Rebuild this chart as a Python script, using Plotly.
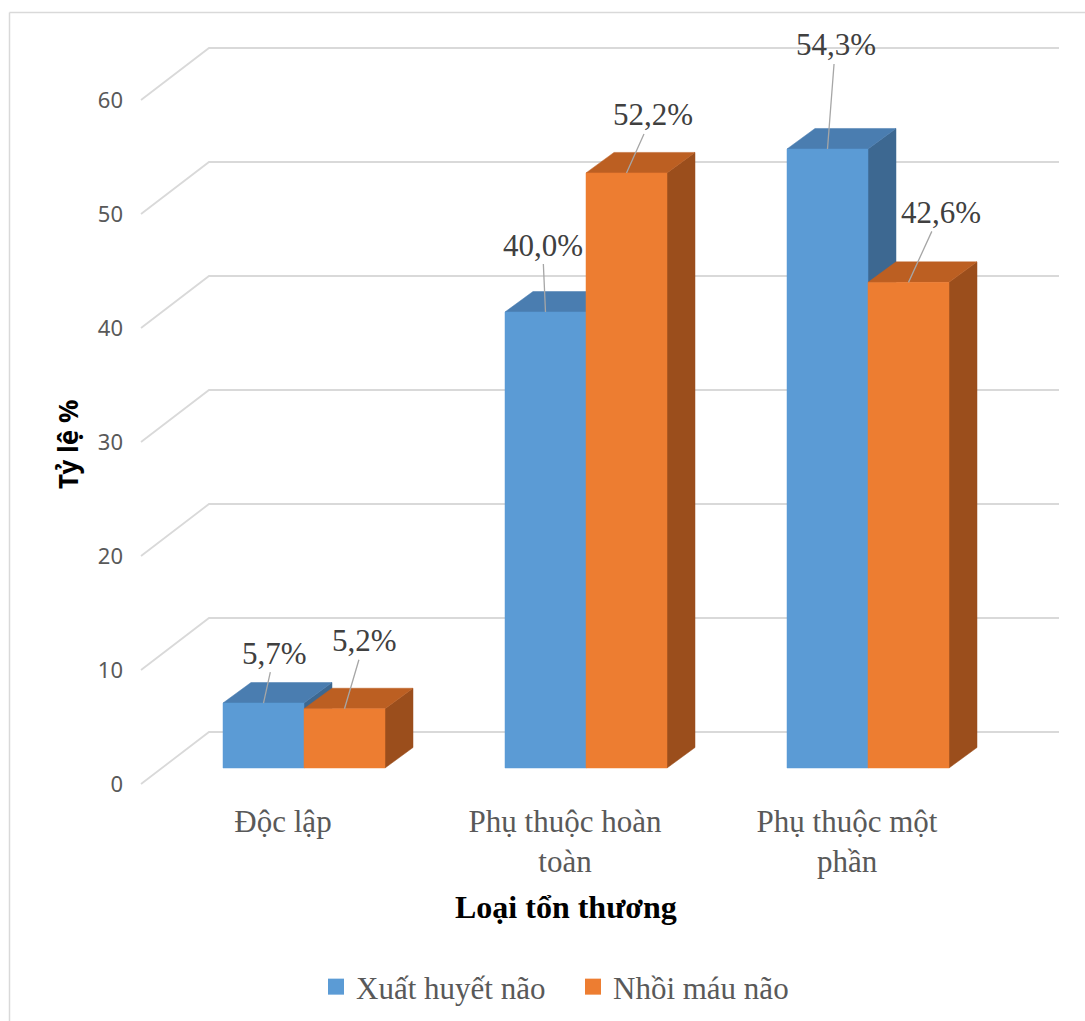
import plotly.graph_objects as go

# ---------------- data ----------------
categories = ["Độc lập", "Phụ thuộc hoàn<br>toàn", "Phụ thuộc một<br>phần"]
series_names = ["Xuất huyết não", "Nhồi máu não"]
xuat_huyet_nao = [5.7, 40.0, 54.3]
nhoi_mau_nao = [5.2, 52.2, 42.6]
y_ticks = [0, 10, 20, 30, 40, 50, 60]
x_title = "Loại tổn thương"
y_title = "Tỷ lệ %"

# ---------------- style / geometry ----------------
PX_X = 282.0      # pixels per category unit
PX_Y = 11.4       # pixels per value unit
Y0_PX = 784       # pixel row of value 0 on the front (tick) plane
WALL_DX, WALL_DY = 68 / PX_X, 52 / PX_Y
FRONT_DX, FRONT_DY = 21 / PX_X, 16 / PX_Y
BAR_W = 81 / PX_X
DEPTH_DX, DEPTH_DY = 28 / PX_X, 20.5 / PX_Y
GRID_X0, GRID_X1 = -0.5035, 2.7518

faces = {
    "Xuất huyết não": dict(front="#5b9bd5", top="#4a7db0", side="#3d6891"),
    "Nhồi máu não": dict(front="#ed7d31", top="#bc5f22", side="#9b4e1c"),
}
label_offsets = {
    "Xuất huyết não": [(11, -50), (-3, -67), (8, -104)],
    "Nhồi máu não": [(20, -68), (26, -58), (32, -70)],
}

SERIF = "Liberation Serif, Times New Roman, serif"
L, R, T, B = 130, 15, 30, 221
W, H = 1085, 1021
pw, ph = W - L - R, H - T - B
x_range = [(L - 283) / PX_X, (L + pw - 283) / PX_X]
y_range = [(Y0_PX - (T + ph)) / PX_Y, (Y0_PX - T) / PX_Y]

fig = go.Figure()

# back wall gridlines with diagonal floor edge
for v in y_ticks:
    fig.add_trace(go.Scatter(
        x=[GRID_X0, GRID_X0 + WALL_DX, GRID_X1],
        y=[v, v + WALL_DY, v + WALL_DY],
        mode="lines", line=dict(color="#d9d9d9", width=1.8),
        showlegend=False, hoverinfo="skip"))

def poly(xs, ys, color):
    fig.add_trace(go.Scatter(
        x=xs + [xs[0]], y=ys + [ys[0]], mode="lines", fill="toself",
        fillcolor=color, line=dict(color=color, width=0.5),
        showlegend=False, hoverinfo="skip"))

annotations = []
series_values = [xuat_huyet_nao, nhoi_mau_nao]
for ci in range(len(categories)):
    for k, (name, vals) in enumerate(zip(series_names, series_values)):
        v = vals[ci]
        col = faces[name]
        left = ci + FRONT_DX + (k - 1) * BAR_W
        right = left + BAR_W
        bottom = FRONT_DY
        top = FRONT_DY + v
        # side face
        poly([right, right + DEPTH_DX, right + DEPTH_DX, right],
             [bottom, bottom + DEPTH_DY, top + DEPTH_DY, top], col["side"])
        # top face
        poly([left, right, right + DEPTH_DX, left + DEPTH_DX],
             [top, top, top + DEPTH_DY, top + DEPTH_DY], col["top"])
        # front face
        poly([left, right, right, left], [bottom, bottom, top, top], col["front"])
        ax, ay = label_offsets[name][ci]
        annotations.append(dict(
            x=(left + right) / 2, y=top, xref="x", yref="y",
            text=f"{v:.1f}%".replace(".", ","), showarrow=True, arrowhead=0,
            arrowwidth=1.3, arrowcolor="#a6a6a6", ax=ax, ay=ay, standoff=0,
            font=dict(family=SERIF, size=31, color="#404040")))

# legend entries
for name in series_names:
    fig.add_trace(go.Scatter(
        x=[None], y=[None], mode="markers", name=name,
        marker=dict(symbol="square", size=16, color=faces[name]["front"])))

annotations.append(dict(
    x=(566 - L) / pw, y=(T + ph - 907) / ph, xref="paper", yref="paper",
    text=f"<b>{x_title}</b>", showarrow=False, xanchor="center", yanchor="middle",
    font=dict(family=SERIF, size=32, color="#000000")))
annotations.append(dict(
    x=(68 - L) / pw, y=(T + ph - 444) / ph, xref="paper", yref="paper",
    text=f"<b>{y_title}</b>", showarrow=False, textangle=-90,
    xanchor="center", yanchor="middle",
    font=dict(family="Noto Sans, sans-serif", size=26, color="#000000")))

bx = (9.5 - L) / pw
by = (T + ph - 12.5) / ph
shapes = [
    dict(type="line", xref="paper", yref="paper", x0=bx, x1=bx, y0=-0.4, y1=by,
         line=dict(color="#d9d9d9", width=1.5)),
    dict(type="line", xref="paper", yref="paper", x0=bx, x1=1.1, y0=by, y1=by,
         line=dict(color="#d9d9d9", width=1.5)),
]

fig.update_layout(
    width=W, height=H,
    margin=dict(l=L, r=R, t=T, b=B, autoexpand=False),
    plot_bgcolor="white", paper_bgcolor="white",
    xaxis=dict(range=x_range, tickvals=list(range(len(categories))), ticktext=categories,
               showgrid=False, zeroline=False, showline=False, ticks="",
               ticklabelstandoff=0, automargin=False,
               tickfont=dict(family=SERIF, size=31, color="#595959")),
    yaxis=dict(range=y_range, tickvals=y_ticks, showgrid=False, zeroline=False,
               showline=False, ticks="", ticklabelstandoff=6, automargin=False,
               tickfont=dict(family="Noto Sans, sans-serif", size=22, color="#595959")),
    legend=dict(orientation="h", xref="container", yref="container",
                x=316 / W, xanchor="left", y=(H - 987) / H, yanchor="middle",
                entrywidth=212, entrywidthmode="pixels",
                font=dict(family=SERIF, size=31, color="#595959")),
    annotations=annotations, shapes=shapes,
)

fig.write_html("out.html")
